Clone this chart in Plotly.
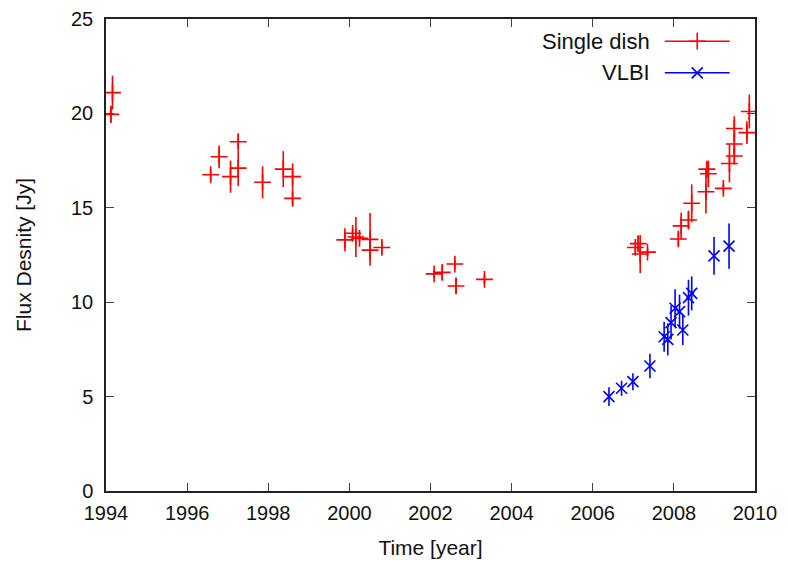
import plotly.graph_objects as go

# Single dish data
sd_year = [1994.16, 1994.12, 1996.58, 1996.79, 1997.07, 1997.26, 1997.26, 1997.86,
           1998.37, 1998.60, 1998.60, 1999.89, 2000.08, 2000.16, 2000.25, 2000.51,
           2000.51, 2000.80, 2002.09, 2002.29, 2002.60, 2002.63, 2003.33, 2007.05,
           2007.12, 2007.17, 2007.35, 2008.11, 2008.18, 2008.36, 2008.44, 2008.79,
           2008.81, 2008.85, 2009.22, 2009.37, 2009.49, 2009.49, 2009.49, 2009.80,
           2009.86]
sd_flux = [21.1, 19.95, 16.75, 17.7, 16.65, 17.1, 18.5, 16.35,
           17.05, 16.65, 15.5, 13.3, 13.65, 13.45, 13.38, 13.33,
           12.76, 12.9, 11.5, 11.58, 12.02, 10.86, 11.21, 12.9,
           13.1, 12.55, 12.65, 13.35, 14.04, 14.35, 15.24, 15.85,
           17.05, 16.8, 16.03, 17.35, 17.74, 18.38, 19.2, 18.98,
           20.1]
sd_err = [0.9, 0.45, 0.3, 0.6, 0.85, 0.95, 0.4, 0.85,
          0.95, 0.7, 0.35, 0.62, 0.25, 1.06, 0.2, 1.4,
          0.5, 0.35, 0.25, 0.4, 0.25, 0.4, 0.25, 0.3,
          0.4, 1.0, 0.2, 0.35, 0.7, 0.5, 1.0, 1.15,
          0.4, 0.7, 0.25, 1.0, 0.4, 0.6, 0.65, 0.6,
          0.9]

# VLBI data
vl_year = [2006.40, 2006.71, 2006.99, 2007.41, 2007.76, 2007.85, 2007.93, 2008.03,
           2008.14, 2008.22, 2008.36, 2008.44, 2008.99, 2009.36]
vl_flux = [5.0, 5.44, 5.79, 6.62, 8.17, 8.03, 8.92, 9.68,
           9.5, 8.53, 10.24, 10.47, 12.45, 12.97]
vl_err = [0.5, 0.4, 0.45, 0.65, 0.8, 0.85, 0.9, 1.0,
          0.9, 0.8, 0.95, 0.9, 1.0, 1.2]

x_ticks = [1994, 1996, 1998, 2000, 2002, 2004, 2006, 2008, 2010]
y_ticks = [0, 5, 10, 15, 20, 25]

RED = "#ff0000"
BLUE = "#0000ff"
FONT = "Liberation Sans, Arial, sans-serif"
TXT = "#111111"

fig = go.Figure()
fig.add_trace(go.Scatter(
    x=sd_year, y=sd_flux, mode="markers", name="Single dish",
    marker=dict(symbol="cross-thin", size=12, line=dict(color=RED, width=1.6)),
    error_y=dict(type="data", array=sd_err, color=RED, thickness=1.6, width=0),
    showlegend=False,
))
fig.add_trace(go.Scatter(
    x=vl_year, y=vl_flux, mode="markers", name="VLBI",
    marker=dict(symbol="x-thin", size=11, line=dict(color=BLUE, width=1.6)),
    error_y=dict(type="data", array=vl_err, color=BLUE, thickness=1.6, width=0),
    showlegend=False,
))

# Legend (gnuplot style: text then sample)
legend_items = [("Single dish", RED, "cross-thin", 12), ("VLBI", BLUE, "x-thin", 11)]
legend_y = [0.953, 0.886]
for (label, col, sym, sz), ly in zip(legend_items, legend_y):
    fig.add_annotation(x=0.842, y=ly, xref="paper", yref="paper", text=label,
                       showarrow=False, xanchor="right", yanchor="middle",
                       font=dict(family=FONT, size=22, color=TXT))
    fig.add_shape(type="line", xref="paper", yref="paper", x0=0.861, x1=0.961,
                  y0=ly, y1=ly, line=dict(color=col, width=1.6))
    fig.add_trace(go.Scatter(x=[0.911], y=[ly], xaxis="x2", yaxis="y2", mode="markers",
                             marker=dict(symbol=sym, size=sz, line=dict(color=col, width=1.6)),
                             showlegend=False, hoverinfo="skip"))

axis_common = dict(showline=True, linecolor="#222222", linewidth=1.5, mirror="ticks",
                   ticks="inside", ticklen=8, tickwidth=1.2, tickcolor="#444444",
                   showgrid=False, zeroline=False, automargin=False,
                   tickfont=dict(family=FONT, size=20, color=TXT))

fig.update_layout(
    width=789, height=561,
    margin=dict(l=98, r=42, t=11, b=78, autoexpand=False),
    paper_bgcolor="white", plot_bgcolor="white",
    xaxis=dict(range=[1994, 2010], tickvals=x_ticks, ticktext=[str(v) for v in x_ticks],
               ticklabelstandoff=3,
               title=dict(text="Time [year]", font=dict(family=FONT, size=21, color=TXT),
                          standoff=18),
               **axis_common),
    yaxis=dict(range=[0, 25], tickvals=y_ticks, ticktext=[str(v) for v in y_ticks],
               ticklabelstandoff=7,
               title=dict(text="Flux Desnity [Jy]", font=dict(family=FONT, size=21, color=TXT),
                          standoff=34),
               **axis_common),
    xaxis2=dict(range=[0, 1], overlaying="x", visible=False),
    yaxis2=dict(range=[0, 1], overlaying="y", visible=False),
)

fig.write_html("out.html")
